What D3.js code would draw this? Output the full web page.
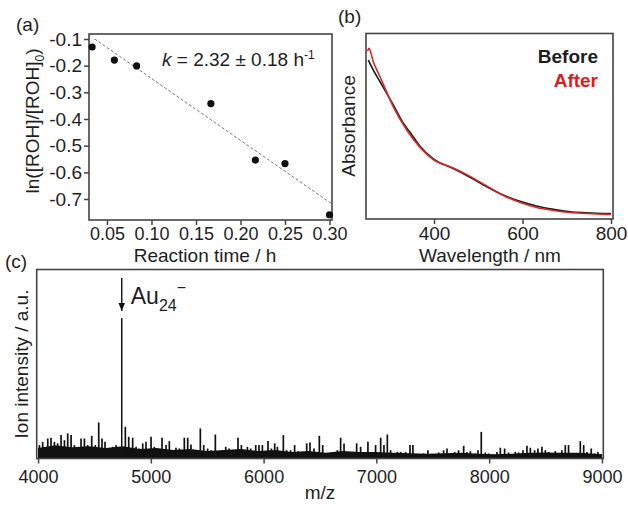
<!DOCTYPE html>
<html>
<head>
<meta charset="utf-8">
<script src="https://cdn.jsdelivr.net/npm/d3@7"></script>
<style>
  body { margin: 0; background: #fff; }
  text { font-family: Arial, "Liberation Sans", sans-serif; fill: #1e1e1e; }
</style>
</head>
<body>
<div id="fig"></div>
<script>
// ---- (a) kinetics ----
var timeH   = [0.0333, 0.0583, 0.0833, 0.1667, 0.2167, 0.25, 0.30];
var lnRatio = [-0.130, -0.179, -0.201, -0.342, -0.554, -0.567, -0.759];
var fitK = 2.32, fitB = -0.016, fitFrom = 0.036, fitTo = 0.303;
var aTicksX = [0.05, 0.10, 0.15, 0.20, 0.25, 0.30];
var aTicksY = [-0.1, -0.2, -0.3, -0.4, -0.5, -0.6, -0.7];

// ---- (b) UV-vis ----
var wlBefore  = [251.5, 262.8, 278.0, 308.0, 330.6, 345.8, 368.4, 398.4, 443.6, 481.4, 519.1, 556.6, 598.2, 632.1, 669.6, 707.4, 745.1, 800];
var absBefore = [0.857, 0.803, 0.740, 0.615, 0.516, 0.468, 0.392, 0.324, 0.272, 0.225, 0.174, 0.129, 0.093, 0.070, 0.052, 0.039, 0.034, 0.029];
var wlAfter   = [250.0, 253.0, 262.8, 278.0, 308.0, 338.3, 368.4, 398.4, 443.6, 481.4, 519.1, 556.6, 598.2, 632.1, 669.6, 707.4, 745.1, 800];
var absAfter  = [0.905, 0.920, 0.848, 0.767, 0.605, 0.480, 0.386, 0.320, 0.275, 0.230, 0.178, 0.127, 0.086, 0.062, 0.046, 0.035, 0.030, 0.024];
var bTicksX = [400, 600, 800];

// ---- (c) mass spectrum ----
var peakMz = 4742, peakInt = 74.3;
var noiseMz  = [4012, 4041, 4086, 4115, 4145, 4174, 4204, 4234, 4263, 4293, 4322, 4352, 4381, 4411, 4440, 4476, 4508, 4538, 4567, 4594,
                4624, 4662, 4692, 4712, 4774, 4804, 4839, 4869, 4898, 4928, 4957, 5002, 5031, 5061, 5099, 5135, 5164, 5194, 5223, 5253,
                5297, 5327, 5356, 5401, 5439, 5469, 5504, 5534, 5572, 5608, 5637, 5664, 5693, 5723, 5773, 5803, 5826, 5856, 5885, 5930,
                5959, 5989, 6039, 6069, 6098, 6122, 6175, 6204, 6240, 6275, 6305, 6343, 6382, 6411, 6447, 6494, 6524, 6559, 6589, 6624,
                6654, 6683, 6713, 6748, 6787, 6825, 6860, 6890, 6925, 6955, 6993, 7038, 7067, 7097, 7126, 7156, 7186, 7215, 7259, 7298,
                7324, 7360, 7389, 7419, 7457, 7493, 7522, 7552, 7596, 7626, 7655, 7694, 7729, 7774, 7803, 7833, 7877, 7901, 7930, 7966,
                7995, 8039, 8069, 8099, 8137, 8172, 8202, 8232, 8261, 8300, 8335, 8365, 8403, 8432, 8468, 8498, 8527, 8557, 8586, 8616,
                8645, 8675, 8704, 8740, 8769, 8808, 8838, 8867, 8905, 8935, 8964, 8994];
var noiseInt = [7.1, 8.8, 10.6, 11.0, 8.8, 8.0, 12.4, 9.7, 13.3, 12.4, 7.1, 5.3, 10.6, 10.6, 7.1, 12.0, 7.1, 19.1, 10.6, 8.8,
                5.3, 6.2, 7.1, 5.7, 16.8, 11.5, 11.0, 6.2, 5.3, 8.0, 8.8, 11.5, 6.2, 4.4, 11.0, 7.1, 9.2, 4.4, 5.7, 5.3,
                11.0, 11.0, 7.4, 4.4, 15.9, 7.1, 5.3, 4.4, 12.7, 3.5, 4.4, 6.2, 5.3, 4.4, 11.0, 7.1, 3.5, 6.2, 5.3, 7.1,
                7.1, 7.1, 9.2, 5.3, 8.0, 6.2, 12.4, 4.4, 4.4, 7.1, 3.9, 3.5, 8.0, 8.5, 5.3, 12.0, 7.1, 2.7, 2.7, 3.5,
                4.4, 11.0, 8.0, 3.5, 3.5, 8.0, 6.2, 3.5, 8.8, 3.5, 7.1, 11.0, 7.1, 12.7, 4.4, 2.7, 3.5, 3.5, 3.5, 7.1,
                7.1, 2.1, 1.8, 2.7, 4.4, 2.1, 1.8, 3.2, 4.4, 5.3, 2.7, 3.5, 4.4, 6.7, 3.5, 3.9, 2.7, 4.4, 14.1, 3.2,
                2.7, 2.1, 3.5, 5.7, 5.3, 3.2, 2.1, 3.5, 3.2, 4.4, 6.7, 5.7, 4.4, 5.3, 6.2, 4.4, 3.5, 2.7, 3.9, 2.1,
                4.4, 7.1, 7.1, 2.7, 2.1, 9.2, 7.1, 3.5, 5.3, 2.7, 3.5, 2.1];
// dense baseline band under the spikes
var floorMz  = [4000, 4150, 4300, 4450, 4600, 4750, 4900, 5050, 5200, 5350, 5500, 5650, 5800, 5950, 6100, 6250, 6400, 6550, 6700, 6850,
                7000, 7150, 7300, 7450, 7600, 7750, 7900, 8050, 8200, 8350, 8500, 8650, 8800, 9000];
var floorInt = [5.5, 7.0, 6.0, 6.5, 5.5, 6.5, 5.0, 5.5, 4.5, 5.0, 4.0, 4.5, 5.0, 4.0, 4.5, 3.5, 4.0, 3.0, 4.0, 3.5,
                3.5, 3.0, 2.8, 2.5, 2.8, 3.0, 2.5, 2.2, 2.5, 3.0, 3.2, 3.0, 3.0, 2.2];
var cTicksX = [4000, 5000, 6000, 7000, 8000, 9000];

var svg = d3.select("#fig").append("svg")
    .attr("width", 628)
    .attr("height", 505);

var boxColor = "#444";

function frame(x0, y0, x1, y1) {
  svg.append("rect")
    .attr("x", x0).attr("y", y0)
    .attr("width", x1 - x0).attr("height", y1 - y0)
    .attr("fill", "none")
    .attr("stroke", boxColor)
    .attr("stroke-width", 1.6);
}

function styleAxis(g, size) {
  g.select(".domain").remove();
  g.selectAll(".tick line").attr("stroke", boxColor).attr("stroke-width", 1.5);
  g.selectAll(".tick text").style("font-size", size + "px").attr("fill", "#1e1e1e");
}

// ================= panel (a) =================
var xa = d3.scaleLinear().domain([0.0298, 0.3028]).range([89, 332]);
var ya = d3.scaleLinear().domain([-0.7787, -0.0813]).range([220, 34]);

svg.append("g")
  .attr("transform", "translate(0,220)")
  .call(d3.axisBottom(xa).tickValues(aTicksX).tickFormat(function(d) { return d.toFixed(2); }).tickSize(5).tickPadding(2))
  .call(styleAxis, 18);

svg.append("g")
  .attr("transform", "translate(89,0)")
  .call(d3.axisLeft(ya).tickValues(aTicksY).tickFormat(function(d) { return d.toFixed(1); }).tickSize(5).tickPadding(2))
  .call(styleAxis, 19);

svg.append("line")
  .attr("x1", xa(fitFrom)).attr("y1", ya(fitB - fitK * fitFrom))
  .attr("x2", xa(fitTo)).attr("y2", ya(fitB - fitK * fitTo))
  .attr("stroke", "#777")
  .attr("stroke-width", 1)
  .attr("stroke-dasharray", "3,2");

frame(89, 34, 332, 220);

svg.selectAll("circle.pt")
  .data(timeH)
  .enter().append("circle")
    .attr("class", "pt")
    .attr("cx", function(d) { return xa(d); })
    .attr("cy", function(d, i) { return ya(lnRatio[i]); })
    .attr("r", 3.6)
    .attr("fill", "#111");

var kText = svg.append("text").attr("x", 162).attr("y", 66).style("font-size", "19px");
kText.append("tspan").style("font-style", "italic").text("k");
kText.append("tspan").text(" = 2.32 ± 0.18 h");
kText.append("tspan").attr("dy", -7).style("font-size", "12px").text("-1");

svg.append("text").attr("x", 16).attr("y", 31).style("font-size", "19px").text("(a)");

var yLabA = svg.append("text")
  .attr("transform", "translate(39,121) rotate(-90)")
  .attr("text-anchor", "middle")
  .style("font-size", "19px");
yLabA.append("tspan").text("ln([ROH]/[ROH]");
yLabA.append("tspan").attr("dy", 5).style("font-size", "12px").text("0");
yLabA.append("tspan").attr("dy", -5).text(")");

svg.append("text").attr("x", 205).attr("y", 262).attr("text-anchor", "middle")
  .style("font-size", "19px").text("Reaction time / h");

// ================= panel (b) =================
var xb = d3.scaleLinear().domain([246.3, 804.5]).range([366, 613]);
var yb = d3.scaleLinear().domain([0, 1]).range([219, 33.5]);

svg.append("g")
  .attr("transform", "translate(0,219)")
  .call(d3.axisBottom(xb).tickValues(bTicksX).tickSize(5).tickPadding(3))
  .call(styleAxis, 19);

var lineB = d3.line()
  .x(function(d) { return xb(d[0]); })
  .y(function(d) { return yb(d[1]); })
  .curve(d3.curveMonotoneX);

svg.append("path")
  .datum(d3.zip(wlBefore, absBefore))
  .attr("d", lineB)
  .attr("fill", "none")
  .attr("stroke", "#1a1a1a")
  .attr("stroke-width", 1.6);

svg.append("path")
  .datum(d3.zip(wlAfter, absAfter))
  .attr("d", lineB)
  .attr("fill", "none")
  .attr("stroke", "#d62a2a")
  .attr("stroke-width", 1.6);

frame(366, 33.5, 613, 219);

svg.append("text").attr("x", 598).attr("y", 63).attr("text-anchor", "end")
  .style("font-size", "19px").style("font-weight", "bold").text("Before");
svg.append("text").attr("x", 598).attr("y", 87).attr("text-anchor", "end")
  .style("font-size", "19px").style("font-weight", "bold").style("fill", "#e01b1b").text("After");

svg.append("text").attr("x", 338).attr("y", 23).style("font-size", "19px").text("(b)");

svg.append("text")
  .attr("transform", "translate(355,126) rotate(-90)")
  .attr("text-anchor", "middle")
  .style("font-size", "19px")
  .text("Absorbance");

svg.append("text").attr("x", 490).attr("y", 262).attr("text-anchor", "middle")
  .style("font-size", "19px").text("Wavelength / nm");

// ================= panel (c) =================
var xc = d3.scaleLinear().domain([3988, 9012]).range([36.7, 603.3]);
var yc = d3.scaleLinear().domain([0, 100]).range([458.5, 269.5]);

svg.append("g")
  .attr("transform", "translate(0,458.5)")
  .call(d3.axisBottom(xc).tickValues(cTicksX).tickSize(5).tickPadding(7).tickFormat(d3.format("d")))
  .call(styleAxis, 18);

svg.append("path")
  .datum(d3.zip(floorMz, floorInt))
  .attr("d", d3.area()
    .x(function(d) { return xc(d[0]); })
    .y0(yc(0))
    .y1(function(d) { return yc(d[1]); }))
  .attr("fill", "#111");

svg.selectAll("line.noise")
  .data(noiseMz)
  .enter().append("line")
    .attr("class", "noise")
    .attr("x1", function(d) { return xc(d); })
    .attr("x2", function(d) { return xc(d); })
    .attr("y1", yc(0))
    .attr("y2", function(d, i) { return yc(noiseInt[i]); })
    .attr("stroke", "#111")
    .attr("stroke-width", 1.7);

svg.append("line")
  .attr("x1", xc(peakMz)).attr("x2", xc(peakMz))
  .attr("y1", yc(0)).attr("y2", yc(peakInt))
  .attr("stroke", "#111")
  .attr("stroke-width", 1.5);

frame(36.7, 269.5, 603.3, 458.5);

// arrow pointing to Au24- peak
svg.append("defs").append("marker")
  .attr("id", "head")
  .attr("viewBox", "0 0 10 10")
  .attr("refX", 10).attr("refY", 5)
  .attr("markerWidth", 6).attr("markerHeight", 7)
  .attr("orient", "auto")
  .append("path").attr("d", "M0,1 L10,5 L0,9 Z").attr("fill", "#111");

svg.append("line")
  .attr("x1", xc(peakMz)).attr("x2", xc(peakMz))
  .attr("y1", yc(peakInt) - 40).attr("y2", yc(peakInt) - 7)
  .attr("stroke", "#111")
  .attr("stroke-width", 1.4)
  .attr("marker-end", "url(#head)");

var au = svg.append("text").attr("x", xc(peakMz) + 9).attr("y", yc(peakInt) - 14).style("font-size", "23px");
au.append("tspan").text("Au");
au.append("tspan").attr("dy", 7).style("font-size", "16px").text("24");
au.append("tspan").attr("dy", -18).style("font-size", "16px").text("−");

svg.append("text").attr("x", 5).attr("y", 268).style("font-size", "19px").text("(c)");

svg.append("text")
  .attr("transform", "translate(28,364) rotate(-90)")
  .attr("text-anchor", "middle")
  .style("font-size", "19px")
  .text("Ion intensity / a.u.");

svg.append("text").attr("x", 320).attr("y", 499).attr("text-anchor", "middle")
  .style("font-size", "19px").text("m/z");
</script>
</body>
</html>
